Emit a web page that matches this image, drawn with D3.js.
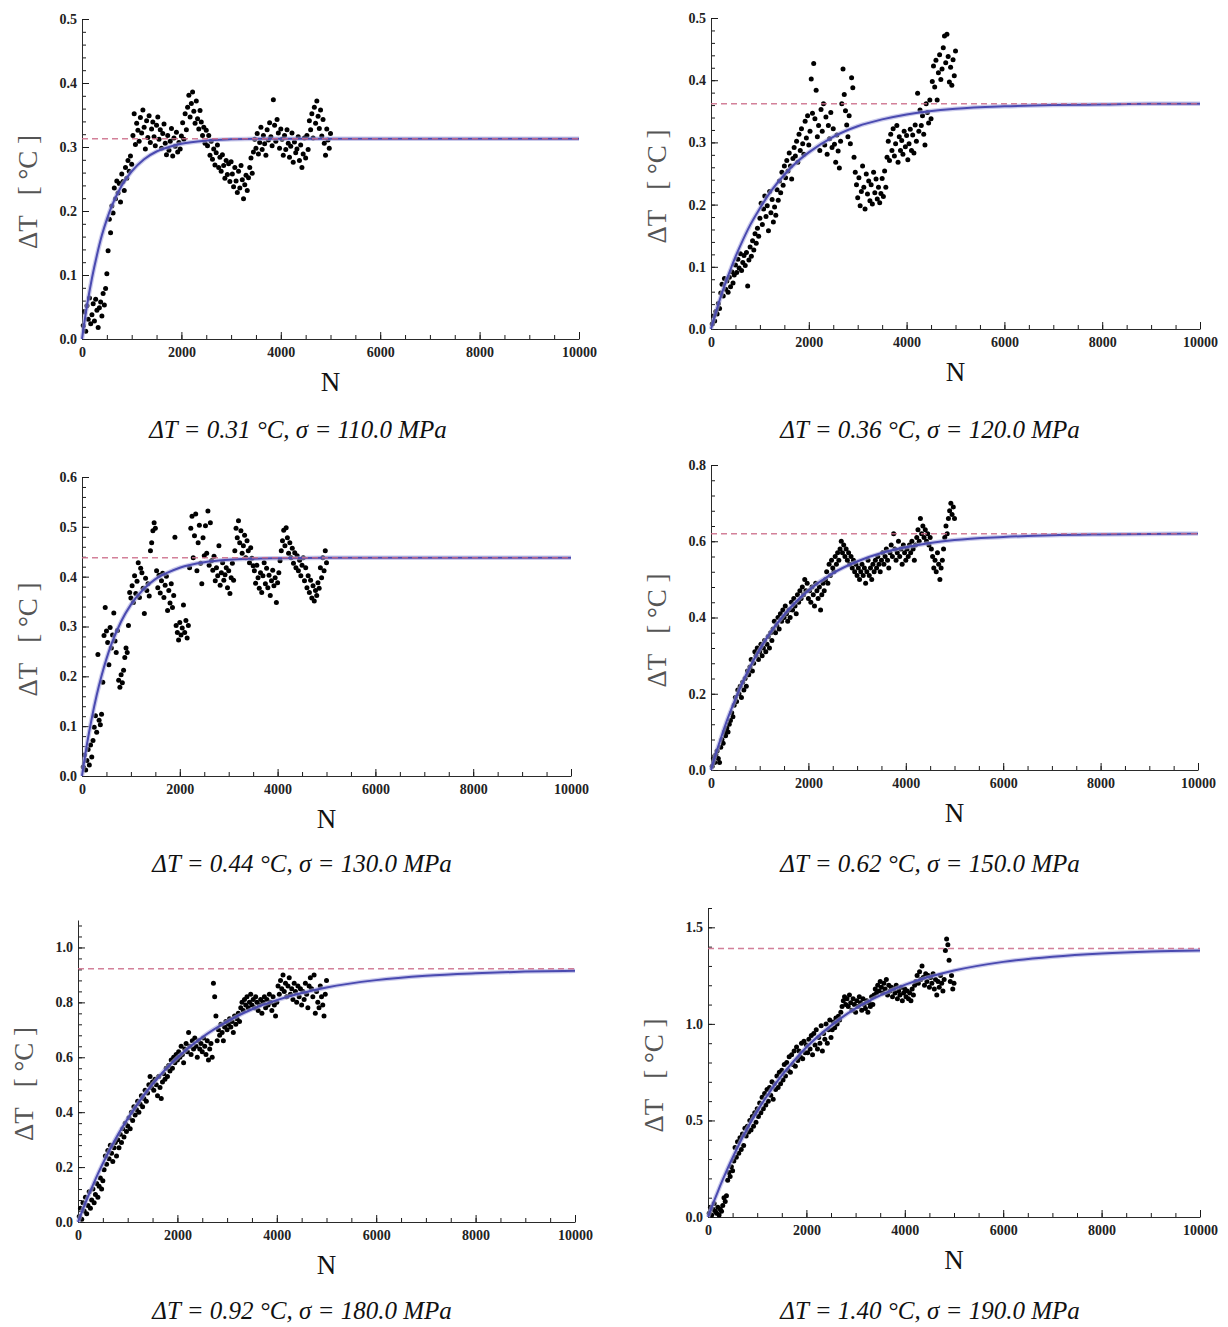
<!DOCTYPE html>
<html>
<head>
<meta charset="utf-8">
<script src="https://cdn.jsdelivr.net/npm/d3@7"></script>
<style>
    body { margin: 0; background: #fff; }
    svg text { font-family: "Liberation Serif", "DejaVu Serif", serif; }
</style>
</head>
<body>
<svg id="chart" width="1228" height="1327"></svg>
<script>
// cycle counts of the measured points (one reading every 25 cycles)
const sampleN = [
    25, 50, 75, 100, 125, 150, 175, 200, 225, 250, 275, 300, 325, 350, 375, 400, 425, 450, 475, 500,
    525, 550, 575, 600, 625, 650, 675, 700, 725, 750, 775, 800, 825, 850, 875, 900, 925, 950, 975, 1000,
    1025, 1050, 1075, 1100, 1125, 1150, 1175, 1200, 1225, 1250, 1275, 1300, 1325, 1350, 1375, 1400, 1425, 1450, 1475, 1500,
    1525, 1550, 1575, 1600, 1625, 1650, 1675, 1700, 1725, 1750, 1775, 1800, 1825, 1850, 1875, 1900, 1925, 1950, 1975, 2000,
    2025, 2050, 2075, 2100, 2125, 2150, 2175, 2200, 2225, 2250, 2275, 2300, 2325, 2350, 2375, 2400, 2425, 2450, 2475, 2500,
    2525, 2550, 2575, 2600, 2625, 2650, 2675, 2700, 2725, 2750, 2775, 2800, 2825, 2850, 2875, 2900, 2925, 2950, 2975, 3000,
    3025, 3050, 3075, 3100, 3125, 3150, 3175, 3200, 3225, 3250, 3275, 3300, 3325, 3350, 3375, 3400, 3425, 3450, 3475, 3500,
    3525, 3550, 3575, 3600, 3625, 3650, 3675, 3700, 3725, 3750, 3775, 3800, 3825, 3850, 3875, 3900, 3925, 3950, 3975, 4000,
    4025, 4050, 4075, 4100, 4125, 4150, 4175, 4200, 4225, 4250, 4275, 4300, 4325, 4350, 4375, 4400, 4425, 4450, 4475, 4500,
    4525, 4550, 4575, 4600, 4625, 4650, 4675, 4700, 4725, 4750, 4775, 4800, 4825, 4850, 4875, 4900, 4925, 4950, 4975, 5000
];

// measured temperature increase [°C]
const dT110 = [
    0.021, 0.043, 0.012, 0.052, 0.031, 0.064, 0.024, 0.038, 0.055, 0.028, 0.062, 0.045, 0.018, 0.049, 0.058, 0.036, 0.071, 0.053, 0.079, 0.102,
    0.138, 0.187, 0.166, 0.208, 0.197, 0.236, 0.219, 0.247, 0.228, 0.243, 0.214, 0.258, 0.246, 0.232, 0.268, 0.251, 0.279, 0.262, 0.286, 0.273,
    0.318, 0.352, 0.304, 0.337, 0.326, 0.309, 0.346, 0.322, 0.358, 0.331, 0.297, 0.341, 0.315, 0.349, 0.307, 0.328, 0.339, 0.316, 0.302, 0.334,
    0.347, 0.312, 0.327, 0.298, 0.321, 0.336, 0.306, 0.288, 0.318, 0.295, 0.309, 0.329, 0.286, 0.314, 0.301, 0.323, 0.292, 0.307, 0.297, 0.317,
    0.338, 0.312, 0.352, 0.327, 0.362, 0.381, 0.347, 0.368, 0.386, 0.356, 0.337, 0.372, 0.344, 0.328, 0.357, 0.339, 0.318, 0.331, 0.306, 0.326,
    0.302, 0.318, 0.287, 0.309, 0.281, 0.297, 0.272, 0.291, 0.303, 0.268, 0.284, 0.262, 0.288, 0.271, 0.251, 0.279, 0.257, 0.274, 0.246, 0.277,
    0.258, 0.238, 0.268, 0.247, 0.229, 0.262, 0.236, 0.271, 0.249, 0.219, 0.241, 0.256, 0.232, 0.252, 0.268, 0.283, 0.259, 0.292, 0.312, 0.298,
    0.321, 0.289, 0.307, 0.331, 0.296, 0.318, 0.305, 0.287, 0.327, 0.311, 0.338, 0.316, 0.302, 0.374, 0.334, 0.309, 0.343, 0.322, 0.298, 0.328,
    0.312, 0.287, 0.318, 0.296, 0.327, 0.306, 0.284, 0.301, 0.322, 0.276, 0.308, 0.291, 0.297, 0.316, 0.279, 0.303, 0.268, 0.289, 0.314, 0.283,
    0.318, 0.296, 0.341, 0.327, 0.352, 0.314, 0.362, 0.337, 0.372, 0.348, 0.329, 0.358, 0.317, 0.343, 0.306, 0.287, 0.328, 0.311, 0.298, 0.321
];
const dT120 = [
    0.008, 0.021, 0.013, 0.028, 0.024, 0.041, 0.033, 0.058, 0.072, 0.053, 0.081, 0.064, 0.077, 0.059, 0.083, 0.068, 0.092, 0.074, 0.087, 0.103,
    0.091, 0.112, 0.098, 0.121, 0.094, 0.107, 0.118, 0.102, 0.123, 0.069, 0.111, 0.132, 0.117, 0.142, 0.127, 0.153, 0.138, 0.162, 0.149, 0.178,
    0.202, 0.168, 0.193, 0.214, 0.181, 0.198, 0.158, 0.221, 0.187, 0.208, 0.172, 0.196, 0.183, 0.224, 0.207, 0.238, 0.219, 0.252, 0.231, 0.262,
    0.243, 0.271, 0.254, 0.283, 0.262, 0.241, 0.274, 0.292, 0.278, 0.302, 0.268, 0.313, 0.287, 0.322, 0.298, 0.281, 0.334, 0.307, 0.343, 0.296,
    0.318, 0.402, 0.347, 0.427, 0.338, 0.384, 0.309, 0.327, 0.287, 0.353, 0.318, 0.362, 0.296, 0.341, 0.281, 0.327, 0.306, 0.348, 0.292, 0.322,
    0.297, 0.268, 0.312, 0.286, 0.259, 0.302, 0.362, 0.418, 0.377, 0.351, 0.328, 0.309, 0.343, 0.298, 0.404, 0.388, 0.276, 0.252, 0.232, 0.211,
    0.243, 0.198, 0.221, 0.262, 0.228, 0.193, 0.249, 0.217, 0.238, 0.206, 0.232, 0.201, 0.252, 0.219, 0.241, 0.209, 0.228, 0.203, 0.218, 0.242,
    0.213, 0.254, 0.228, 0.276, 0.302, 0.271, 0.313, 0.287, 0.322, 0.278, 0.298, 0.327, 0.268, 0.309, 0.287, 0.303, 0.281, 0.318, 0.293, 0.311,
    0.272, 0.298, 0.321, 0.287, 0.312, 0.283, 0.328, 0.302, 0.379, 0.318, 0.352, 0.327, 0.343, 0.313, 0.296, 0.362, 0.348, 0.331, 0.368, 0.338,
    0.398, 0.423, 0.389, 0.432, 0.368, 0.412, 0.441, 0.401, 0.418, 0.452, 0.471, 0.428, 0.474, 0.438, 0.397, 0.421, 0.392, 0.433, 0.407, 0.447
];
const dT130 = [
    0.018, 0.042, 0.012, 0.031, 0.053, 0.022, 0.062, 0.038, 0.071, 0.098, 0.121, 0.088, 0.244, 0.112, 0.103, 0.124, 0.188, 0.282, 0.338, 0.291,
    0.268, 0.223, 0.298, 0.257, 0.283, 0.327, 0.271, 0.248, 0.292, 0.192, 0.178, 0.203, 0.187, 0.212, 0.238, 0.257, 0.248, 0.302, 0.368, 0.357,
    0.382, 0.348, 0.402, 0.366, 0.391, 0.428, 0.358, 0.417, 0.408, 0.377, 0.326, 0.397, 0.372, 0.386, 0.361, 0.452, 0.468, 0.492, 0.508, 0.497,
    0.412, 0.378, 0.403, 0.367, 0.392, 0.407, 0.358, 0.383, 0.401, 0.332, 0.372, 0.347, 0.386, 0.338, 0.362, 0.479, 0.302, 0.288, 0.273, 0.308,
    0.283, 0.297, 0.343, 0.288, 0.312, 0.277, 0.302, 0.418, 0.497, 0.521, 0.438, 0.482, 0.526, 0.412, 0.468, 0.503, 0.427, 0.386, 0.478, 0.442,
    0.502, 0.447, 0.532, 0.423, 0.508, 0.432, 0.413, 0.441, 0.392, 0.418, 0.402, 0.462, 0.383, 0.408, 0.428, 0.393, 0.404, 0.418, 0.378, 0.412,
    0.366, 0.398, 0.427, 0.393, 0.452, 0.497, 0.478, 0.512, 0.468, 0.492, 0.447, 0.462, 0.483, 0.438, 0.472, 0.452, 0.428, 0.458, 0.437, 0.422,
    0.412, 0.387, 0.423, 0.398, 0.377, 0.408, 0.368, 0.402, 0.428, 0.386, 0.417, 0.378, 0.403, 0.362, 0.392, 0.413, 0.382, 0.398, 0.348, 0.388,
    0.408, 0.432, 0.452, 0.472, 0.493, 0.462, 0.498, 0.478, 0.447, 0.468, 0.438, 0.457, 0.427, 0.448, 0.418, 0.442, 0.412, 0.433, 0.402, 0.423,
    0.438, 0.392, 0.418, 0.378, 0.402, 0.368, 0.393, 0.357, 0.382, 0.351, 0.372, 0.362, 0.388, 0.377, 0.418, 0.398, 0.438, 0.412, 0.452, 0.428
];
const dT150 = [
    0.01, 0.03, 0.02, 0.04, 0.05, 0.03, 0.02, 0.06, 0.08, 0.07, 0.10, 0.09, 0.11, 0.10, 0.12, 0.13, 0.15, 0.14, 0.17, 0.19,
    0.18, 0.21, 0.20, 0.22, 0.19, 0.23, 0.21, 0.24, 0.22, 0.26, 0.25, 0.27, 0.29, 0.26, 0.28, 0.31, 0.30, 0.32, 0.29, 0.31,
    0.33, 0.30, 0.32, 0.34, 0.31, 0.33, 0.35, 0.32, 0.36, 0.34, 0.37, 0.39, 0.36, 0.38, 0.40, 0.37, 0.41, 0.39, 0.42, 0.40,
    0.43, 0.41, 0.39, 0.42, 0.40, 0.44, 0.42, 0.45, 0.43, 0.41, 0.46, 0.44, 0.47, 0.45, 0.48, 0.46, 0.50, 0.47, 0.49, 0.45,
    0.47, 0.44, 0.48, 0.46, 0.43, 0.49, 0.47, 0.45, 0.48, 0.42, 0.46, 0.49, 0.47, 0.50, 0.52, 0.49, 0.54, 0.51, 0.55, 0.53,
    0.52, 0.56, 0.54, 0.57, 0.55, 0.58, 0.60, 0.57, 0.59, 0.56, 0.58, 0.55, 0.57, 0.54, 0.56, 0.53, 0.55, 0.52, 0.54, 0.51,
    0.53, 0.50, 0.52, 0.54, 0.51, 0.53, 0.49, 0.52, 0.55, 0.51, 0.53, 0.50, 0.54, 0.52, 0.55, 0.53, 0.56, 0.54, 0.52, 0.55,
    0.57, 0.54, 0.56, 0.58, 0.55, 0.53, 0.57, 0.59, 0.56, 0.62, 0.58, 0.55, 0.57, 0.60, 0.56, 0.58, 0.54, 0.59, 0.57, 0.55,
    0.58, 0.56, 0.59, 0.57, 0.60, 0.58, 0.55, 0.59, 0.61, 0.63, 0.60, 0.66, 0.62, 0.64, 0.61, 0.63, 0.60, 0.62, 0.59, 0.61,
    0.58, 0.56, 0.53, 0.55, 0.52, 0.57, 0.54, 0.50, 0.53, 0.55, 0.58, 0.61, 0.64, 0.62, 0.66, 0.68, 0.70, 0.67, 0.69, 0.66
];
const dT180 = [
    0.02, 0.05, 0.01, 0.07, 0.04, 0.09, 0.03, 0.06, 0.11, 0.05, 0.08, 0.12, 0.07, 0.10, 0.14, 0.09, 0.13, 0.16, 0.12, 0.15,
    0.19, 0.24, 0.21, 0.26, 0.23, 0.28, 0.25, 0.22, 0.27, 0.29, 0.24, 0.30, 0.27, 0.32, 0.29, 0.34, 0.31, 0.36, 0.33, 0.35,
    0.38, 0.34, 0.40, 0.37, 0.42, 0.39, 0.41, 0.44, 0.40, 0.43, 0.46, 0.42, 0.45, 0.48, 0.44, 0.47, 0.50, 0.53, 0.49, 0.51,
    0.48, 0.52, 0.50, 0.46, 0.53, 0.49, 0.45, 0.51, 0.54, 0.52, 0.56, 0.53, 0.57, 0.55, 0.59, 0.56, 0.60, 0.58, 0.61, 0.59,
    0.62, 0.60, 0.64, 0.61, 0.58, 0.63, 0.65, 0.62, 0.69, 0.64, 0.61, 0.66, 0.63, 0.67, 0.64, 0.60, 0.66, 0.63, 0.65, 0.62,
    0.67, 0.64, 0.61, 0.66, 0.59, 0.63, 0.65, 0.60, 0.87, 0.82, 0.75, 0.66, 0.70, 0.68, 0.72, 0.69, 0.66, 0.71, 0.73, 0.70,
    0.72, 0.74, 0.71, 0.73, 0.69, 0.75, 0.72, 0.74, 0.76, 0.73, 0.78, 0.80, 0.77, 0.81, 0.79, 0.82, 0.78, 0.80, 0.83, 0.79,
    0.81, 0.78, 0.82, 0.80, 0.77, 0.79, 0.81, 0.76, 0.80, 0.82, 0.78, 0.81, 0.79, 0.83, 0.80, 0.77, 0.82, 0.79, 0.75, 0.80,
    0.86, 0.83, 0.88, 0.85, 0.90, 0.84, 0.87, 0.82, 0.86, 0.89, 0.83, 0.85, 0.81, 0.87, 0.84, 0.80, 0.86, 0.82, 0.85, 0.79,
    0.84, 0.81, 0.87, 0.83, 0.78, 0.86, 0.89, 0.85, 0.82, 0.90, 0.76, 0.84, 0.80, 0.78, 0.86, 0.82, 0.79, 0.75, 0.83, 0.88
];
const dT190 = [
    0.02, 0.05, 0.01, 0.04, 0.07, 0.03, 0.02, 0.05, 0.01, 0.04, 0.03, 0.06, 0.10, 0.08, 0.11, 0.19, 0.23, 0.21, 0.26, 0.24,
    0.29, 0.36, 0.31, 0.39, 0.33, 0.41, 0.35, 0.43, 0.37, 0.46, 0.42, 0.47, 0.44, 0.50, 0.45, 0.52, 0.47, 0.54, 0.49, 0.56,
    0.52, 0.59, 0.54, 0.62, 0.56, 0.64, 0.58, 0.66, 0.60, 0.67, 0.63, 0.70, 0.61, 0.69, 0.66, 0.73, 0.67, 0.75, 0.69, 0.76,
    0.71, 0.79, 0.73, 0.80, 0.76, 0.83, 0.75, 0.84, 0.79, 0.86, 0.78, 0.88, 0.81, 0.86, 0.83, 0.90, 0.82, 0.91, 0.85, 0.89,
    0.85, 0.92, 0.87, 0.94, 0.84, 0.95, 0.89, 0.97, 0.87, 0.93, 0.90, 0.99, 0.86, 0.95, 0.92, 1.00, 0.90, 0.97, 1.02, 0.93,
    0.97, 1.01, 0.98, 1.03, 1.00, 1.04, 1.02, 1.06, 1.09, 1.12, 1.14, 1.10, 1.13, 1.09, 1.15, 1.11, 1.07, 1.13, 1.10, 1.06,
    1.12, 1.09, 1.14, 1.11, 1.07, 1.13, 1.10, 1.08, 1.12, 1.06, 1.11, 1.09, 1.14, 1.10, 1.15, 1.18, 1.16, 1.20, 1.17, 1.22,
    1.19, 1.16, 1.21, 1.18, 1.23, 1.15, 1.20, 1.17, 1.19, 1.14, 1.18, 1.16, 1.20, 1.13, 1.17, 1.15, 1.19, 1.12, 1.16, 1.18,
    1.14, 1.17, 1.13, 1.16, 1.12, 1.18, 1.15, 1.20, 1.22, 1.25, 1.21, 1.27, 1.23, 1.30, 1.24, 1.20, 1.26, 1.22, 1.25, 1.19,
    1.24, 1.21, 1.26, 1.18, 1.23, 1.15, 1.22, 1.19, 1.25, 1.21, 1.17, 1.23, 1.38, 1.44, 1.41, 1.33, 1.22, 1.25, 1.18, 1.21
];

// fitted curve
const fitN = [0, 100, 200, 300, 400, 500, 600, 800, 1000, 1250, 1500, 1750, 2000, 2500, 3000, 3500, 4000, 5000, 6000, 7000, 8000, 9000, 10000];
const fit110 = [0, 0.052, 0.095, 0.131, 0.162, 0.187, 0.208, 0.240, 0.262, 0.281, 0.293, 0.300, 0.305, 0.310, 0.312, 0.313, 0.313, 0.313, 0.313, 0.313, 0.313, 0.313, 0.313];
const fit120 = [0, 0.027, 0.052, 0.075, 0.096, 0.116, 0.134, 0.167, 0.194, 0.224, 0.248, 0.268, 0.284, 0.309, 0.326, 0.337, 0.345, 0.354, 0.358, 0.360, 0.361, 0.362, 0.362];
const fit130 = [0, 0.063, 0.116, 0.162, 0.201, 0.235, 0.264, 0.310, 0.344, 0.374, 0.395, 0.408, 0.418, 0.429, 0.434, 0.436, 0.437, 0.438, 0.438, 0.438, 0.438, 0.438, 0.438];
const fit150 = [0, 0.043, 0.082, 0.120, 0.154, 0.186, 0.216, 0.270, 0.316, 0.366, 0.407, 0.442, 0.471, 0.516, 0.547, 0.569, 0.584, 0.603, 0.611, 0.616, 0.618, 0.619, 0.620];
const fit180 = [0, 0.047, 0.092, 0.134, 0.175, 0.213, 0.249, 0.317, 0.376, 0.443, 0.502, 0.554, 0.599, 0.673, 0.730, 0.775, 0.808, 0.854, 0.881, 0.897, 0.906, 0.912, 0.915];
const fit190 = [0, 0.068, 0.132, 0.193, 0.252, 0.307, 0.360, 0.459, 0.547, 0.646, 0.733, 0.810, 0.879, 0.991, 1.080, 1.148, 1.202, 1.276, 1.321, 1.348, 1.365, 1.375, 1.380];

// asymptotic values (dashed lines)
const plateaus = [0.313, 0.362, 0.438, 0.620, 0.922, 1.390];

const captions = [
    "ΔT = 0.31 °C, σ = 110.0 MPa",
    "ΔT = 0.36 °C, σ = 120.0 MPa",
    "ΔT = 0.44 °C, σ = 130.0 MPa",
    "ΔT = 0.62 °C, σ = 150.0 MPa",
    "ΔT = 0.92 °C, σ = 180.0 MPa",
    "ΔT = 1.40 °C, σ = 190.0 MPa"
];

const xTicks = [0, 2000, 4000, 6000, 8000, 10000];
const yTicks = [
    [0, 0.1, 0.2, 0.3, 0.4, 0.5],
    [0, 0.1, 0.2, 0.3, 0.4, 0.5],
    [0, 0.1, 0.2, 0.3, 0.4, 0.5, 0.6],
    [0, 0.2, 0.4, 0.6, 0.8],
    [0, 0.2, 0.4, 0.6, 0.8, 1.0],
    [0, 0.5, 1.0, 1.5]
];
const yMax = [0.5, 0.5, 0.6, 0.8, 1.1, 1.6];
const yMinorStep = [0.02, 0.02, 0.02, 0.04, 0.04, 0.1];

const series = [dT110, dT120, dT130, dT150, dT180, dT190];
const fits = [fit110, fit120, fit130, fit150, fit180, fit190];

// pixel frames of the six panels
const frames = [
    { left: 82, right: 579, top: 19, bottom: 339, capX: 298, capY: 438 },
    { left: 711, right: 1200, top: 18, bottom: 329, capX: 930, capY: 438 },
    { left: 82, right: 571, top: 477, bottom: 776, capX: 302, capY: 872 },
    { left: 711, right: 1198, top: 465, bottom: 770, capX: 930, capY: 872 },
    { left: 78, right: 575, top: 920, bottom: 1222, capX: 302, capY: 1319 },
    { left: 708, right: 1200, top: 908, bottom: 1217, capX: 930, capY: 1319 }
];

const colors = {
    axis: "#2a2a2a",
    tick: "#1a1a1a",
    label: "#555",
    dots: "#000",
    fit: "#4a4ab0",
    fitHalo: "#a8a8e0",
    plateau: "#cc6a88"
};

const svg = d3.select("#chart");

function drawPanel(i) {
    const f = frames[i];
    const g = svg.append("g");

    const x = d3.scaleLinear().domain([0, 10000]).range([f.left, f.right]);
    const y = d3.scaleLinear().domain([0, yMax[i]]).range([f.bottom, f.top]);

    // minor ticks
    g.append("g")
        .attr("transform", `translate(0,${f.bottom})`)
        .call(d3.axisBottom(x).tickValues(d3.range(0, 10001, 500)).tickSize(-4).tickFormat(""))
        .call(s => s.select(".domain").remove());
    g.append("g")
        .attr("transform", `translate(${f.left},0)`)
        .call(d3.axisLeft(y).tickValues(d3.range(0, yMax[i] + 1e-9, yMinorStep[i])).tickSize(-4).tickFormat(""))
        .call(s => s.select(".domain").remove());

    // major ticks + labels
    const xAxis = g.append("g")
        .attr("transform", `translate(0,${f.bottom})`)
        .call(d3.axisBottom(x).tickValues(xTicks).tickSize(-7).tickSizeOuter(0).tickPadding(8).tickFormat(d3.format("d")));
    const yAxis = g.append("g")
        .attr("transform", `translate(${f.left},0)`)
        .call(d3.axisLeft(y).tickValues(yTicks[i]).tickSize(-7).tickSizeOuter(0).tickPadding(5).tickFormat(d3.format(".1f")));

    g.selectAll(".tick line").attr("stroke", colors.tick);
    [xAxis, yAxis].forEach(a => {
        a.select(".domain").attr("stroke", colors.axis);
        a.selectAll("text")
            .attr("font-family", "Liberation Serif, serif")
            .attr("font-size", 14)
            .attr("font-weight", "bold")
            .attr("fill", "#222");
    });

    // data points
    g.append("g").selectAll("circle")
        .data(series[i])
        .join("circle")
        .attr("cx", (d, k) => x(sampleN[k]))
        .attr("cy", d => y(d))
        .attr("r", 2.5)
        .attr("fill", colors.dots);

    // fitted curve
    const line = d3.line()
        .x((d, k) => x(fitN[k]))
        .y(d => y(d))
        .curve(d3.curveMonotoneX);
    g.append("path")
        .attr("d", line(fits[i]))
        .attr("fill", "none")
        .attr("stroke", colors.fitHalo)
        .attr("stroke-opacity", 0.6)
        .attr("stroke-width", 4.5);
    g.append("path")
        .attr("d", line(fits[i]))
        .attr("fill", "none")
        .attr("stroke", colors.fit)
        .attr("stroke-width", 2);

    // plateau
    g.append("line")
        .attr("x1", x(0))
        .attr("x2", x(10000))
        .attr("y1", y(plateaus[i]))
        .attr("y2", y(plateaus[i]))
        .attr("stroke", colors.plateau)
        .attr("stroke-width", 1.5)
        .attr("stroke-dasharray", "6,4")
        .attr("opacity", 0.85);

    // axis labels
    g.append("text")
        .attr("x", (f.left + f.right) / 2)
        .attr("y", f.bottom + 52)
        .attr("text-anchor", "middle")
        .attr("font-size", 27)
        .attr("fill", "#111")
        .text("N");

    const yl = g.append("text")
        .attr("transform", `translate(${f.left - 54},${(f.top + f.bottom) / 2 + 13}) rotate(-90)`)
        .attr("text-anchor", "middle")
        .attr("dominant-baseline", "central")
        .attr("font-size", 27)
        .attr("fill", colors.label);
    yl.append("tspan").text("ΔT");
    yl.append("tspan").attr("dx", 20).text("[ °C ]");

    // caption
    g.append("text")
        .attr("x", f.capX)
        .attr("y", f.capY)
        .attr("text-anchor", "middle")
        .attr("font-size", 25)
        .attr("font-style", "italic")
        .attr("fill", "#111")
        .text(captions[i]);
}

d3.range(6).forEach(drawPanel);
</script>
</body>
</html>
